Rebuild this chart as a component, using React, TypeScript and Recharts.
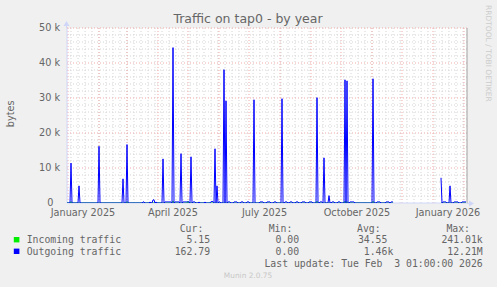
import React from 'react';
import { ComposedChart, Line, XAxis, YAxis, ReferenceLine } from 'recharts';

// one point per day, day 0 = Dec 31 2024
const dayCount = 400;
const gapFrom = 327;
const gapTo = 373;

const outSpikeDays = [4, 12, 32, 56, 60, 96, 106, 114, 124, 148, 150, 157, 159, 187, 215, 250, 257, 262, 278, 280, 306, 374, 383];
const outSpikeValues = [11400, 4900, 16200, 6900, 16700, 12600, 44400, 14100, 13200, 15500, 4900, 38100, 29200, 29500, 29800, 30100, 12900, 2100, 35200, 34900, 35500, 7200, 4900];

// low background traffic: [first day, last day, bytes]
const outBumps = [
  [76, 77, 300], [83, 83, 300], [86, 87, 900], [89, 89, 300], [98, 104, 300], [108, 112, 300],
  [116, 122, 300], [126, 128, 300], [132, 132, 300], [138, 138, 300], [144, 146, 400], [152, 153, 300],
  [161, 163, 300], [167, 170, 300], [174, 176, 300], [180, 182, 300], [193, 196, 300], [200, 203, 300],
  [207, 209, 300], [218, 220, 300], [223, 225, 300], [229, 231, 300], [235, 238, 300], [242, 245, 300],
  [253, 255, 300], [265, 267, 300], [271, 273, 300], [283, 287, 300], [310, 313, 300], [319, 322, 300],
  [324, 326, 300], [376, 379, 300], [387, 391, 300], [395, 399, 300],
];

const inSpikeDays = [4, 60, 106, 121, 250, 278, 280, 306];
const inSpikeValues = [400, 400, 600, 500, 500, 500, 400, 500];

const monthStartDays = [1, 32, 60, 91, 121, 152, 182, 213, 244, 274, 305, 335, 366, 397];
const firstWeekDay = 4;
const xLabels = ['January 2025', 'April 2025', 'July 2025', 'October 2025', 'January 2026'];
const xLabelDays = [16, 106, 197.5, 290, 381];

const yTicks = [0, 10000, 20000, 30000, 40000, 50000];
const yMinorStep = 2000;

const legendNames = ['Incoming traffic', 'Outgoing traffic'];
const legendColors = ['#00ee00', '#0000ff'];
const legendCur = ['5.15', '162.79'];
const legendMin = ['0.00', '0.00'];
const legendAvg = ['34.55', '1.46k'];
const legendMax = ['241.01k', '12.21M'];

const table = Array.from({ length: dayCount }, (_, d) => ({
  day: d,
  inc: 0 as number | null,
  out: 0 as number | null,
}));
outBumps.forEach(([a, b, v]) => {
  for (let d = a; d <= b; d++) table[d].out = v;
});
outSpikeDays.forEach((d, i) => (table[d].out = outSpikeValues[i]));
inSpikeDays.forEach((d, i) => (table[d].inc = inSpikeValues[i]));
for (let d = gapFrom; d <= gapTo; d++) {
  table[d].inc = null;
  table[d].out = null;
}

const weekDays: number[] = [];
for (let d = firstWeekDay; d < dayCount; d += 7) weekDays.push(d);
const minorY: number[] = [];
for (let v = yMinorStep; v < 50000; v += yMinorStep) if (v % 10000 !== 0) minorY.push(v);

const sans = 'DejaVu Sans, sans-serif';
const mono = 'DejaVu Sans Mono, monospace';
const fontColor = '#666666';
const minorGrid = '#d4d4d4';
const majorGrid = '#f0abab';
const axisColor = '#cfd6f8';

const XTick = (props: any) => {
  const { x, payload } = props;
  return (
    <text x={x} y={216} textAnchor="middle" fontSize={9.7} fill={fontColor} fontFamily={sans}>
      {xLabels[payload.index]}
    </text>
  );
};

const YTick = (props: any) => {
  const { y, payload } = props;
  const v = payload.value as number;
  return (
    <text x={v === 0 ? 53.5 : 60} y={y + 3.4} textAnchor="end" fontSize={9.7} fill={fontColor} fontFamily={sans}>
      {v === 0 ? '0' : `${v / 1000} k`}
    </text>
  );
};

const cols = [
  { head: 'Cur:', right: 216, vals: legendCur },
  { head: 'Min:', right: 305, vals: legendMin },
  { head: 'Avg:', right: 393.3, vals: legendAvg },
  { head: 'Max:', right: 482.7, vals: legendMax },
];

export default function App() {
  return (
    <div style={{ position: 'absolute', left: 0, top: 0, width: 497, height: 287, background: '#f0f0f0' }}>
      <svg width={497} height={287} style={{ position: 'absolute', left: 0, top: 0 }}>
        <rect x={67} y={28} width={400} height={175} fill="#ffffff" />
        <text x={248} y={23.3} textAnchor="middle" fontSize={12.5} fill={fontColor} fontFamily={sans}>
          Traffic on tap0 - by year
        </text>
        <text
          transform="translate(13.5,113.8) rotate(-90)"
          textAnchor="middle"
          fontSize={9.7}
          fill={fontColor}
          fontFamily={sans}
        >
          bytes
        </text>
        <text
          transform="translate(485.5,5) rotate(90)"
          fontSize={7.5}
          fill="#cccccc"
          fontFamily={sans}
        >
          RRDTOOL / TOBI OETIKER
        </text>
        {cols.map((c) => (
          <text key={c.head} x={c.right - 12.7} y={232.2} textAnchor="end" fontSize={9.8} fill={fontColor} fontFamily={mono}>
            {c.head}
          </text>
        ))}
        {legendNames.map((name, i) => (
          <g key={name}>
            <rect x={13.8} y={237 + i * 11.6} width={5.6} height={5.4} fill={legendColors[i]} />
            <text x={26.7} y={242.9 + i * 11.6} fontSize={9.8} fill={fontColor} fontFamily={mono}>
              {name}
            </text>
            {cols.map((c) => {
              const s = c.vals[i];
              const hasSuffix = /[a-zA-Z]$/.test(s);
              return (
                <text
                  key={c.head}
                  x={hasSuffix ? c.right : c.right - 5.9}
                  y={242.9 + i * 11.6}
                  textAnchor="end"
                  fontSize={9.8}
                  fill={fontColor}
                  fontFamily={mono}
                >
                  {s}
                </text>
              );
            })}
          </g>
        ))}
        <text x={482.7} y={266.5} textAnchor="end" fontSize={9.8} fill={fontColor} fontFamily={mono} xmlSpace="preserve" style={{ whiteSpace: 'pre' }}>
          {'Last update: Tue Feb  3 01:00:00 2026'}
        </text>
        <text x={248} y={278.3} textAnchor="middle" fontSize={7.4} fill="#c8c8c8" fontFamily={sans}>
          Munin 2.0.75
        </text>
      </svg>
      <div style={{ position: 'absolute', left: 0, top: 0 }}>
        <ComposedChart width={497} height={287} data={table} margin={{ top: 28, right: 30, bottom: 0, left: 0 }}>
          <XAxis
            type="number"
            dataKey="day"
            domain={[0, dayCount]}
            ticks={xLabelDays}
            tick={<XTick />}
            axisLine={false}
            tickLine={false}
            height={84}
            allowDataOverflow
          />
          <YAxis
            type="number"
            domain={[0, 50000]}
            ticks={yTicks}
            tick={<YTick />}
            axisLine={false}
            tickLine={false}
            width={67}
            allowDataOverflow
          />
          {minorY.map((v) => (
            <ReferenceLine key={`hy${v}`} y={v} stroke={minorGrid} strokeDasharray="1 2" />
          ))}
          {weekDays.map((d) => (
            <ReferenceLine key={`wx${d}`} x={d} stroke={minorGrid} strokeDasharray="1 2" />
          ))}
          {yTicks.slice(1).map((v) => (
            <ReferenceLine key={`my${v}`} y={v} stroke={majorGrid} strokeDasharray="1 2" />
          ))}
          {monthStartDays.map((d) => (
            <ReferenceLine key={`mx${d}`} x={d} stroke={majorGrid} strokeDasharray="1 2" />
          ))}
          <ReferenceLine x={dayCount} stroke="#a0a0a0" />
          <ReferenceLine y={0} stroke={axisColor} />
          <ReferenceLine x={0} stroke={axisColor} />
          <Line type="linear" dataKey="inc" stroke={legendColors[0]} strokeWidth={1} dot={false} isAnimationActive={false} />
          <Line type="linear" dataKey="out" stroke={legendColors[1]} strokeWidth={1} dot={false} isAnimationActive={false} />
        </ComposedChart>
      </div>
      <svg width={497} height={287} style={{ position: 'absolute', left: 0, top: 0, pointerEvents: 'none' }}>
        <line x1={467} y1={203.5} x2={470} y2={203.5} stroke={axisColor} />
        <polygon points="469,200.5 474,203.5 469,206.5" fill={axisColor} />
        <line x1={66.5} y1={28} x2={66.5} y2={25} stroke={axisColor} />
        <polygon points="63.5,26 66.5,21 69.5,26" fill={axisColor} />
      </svg>
    </div>
  );
}
